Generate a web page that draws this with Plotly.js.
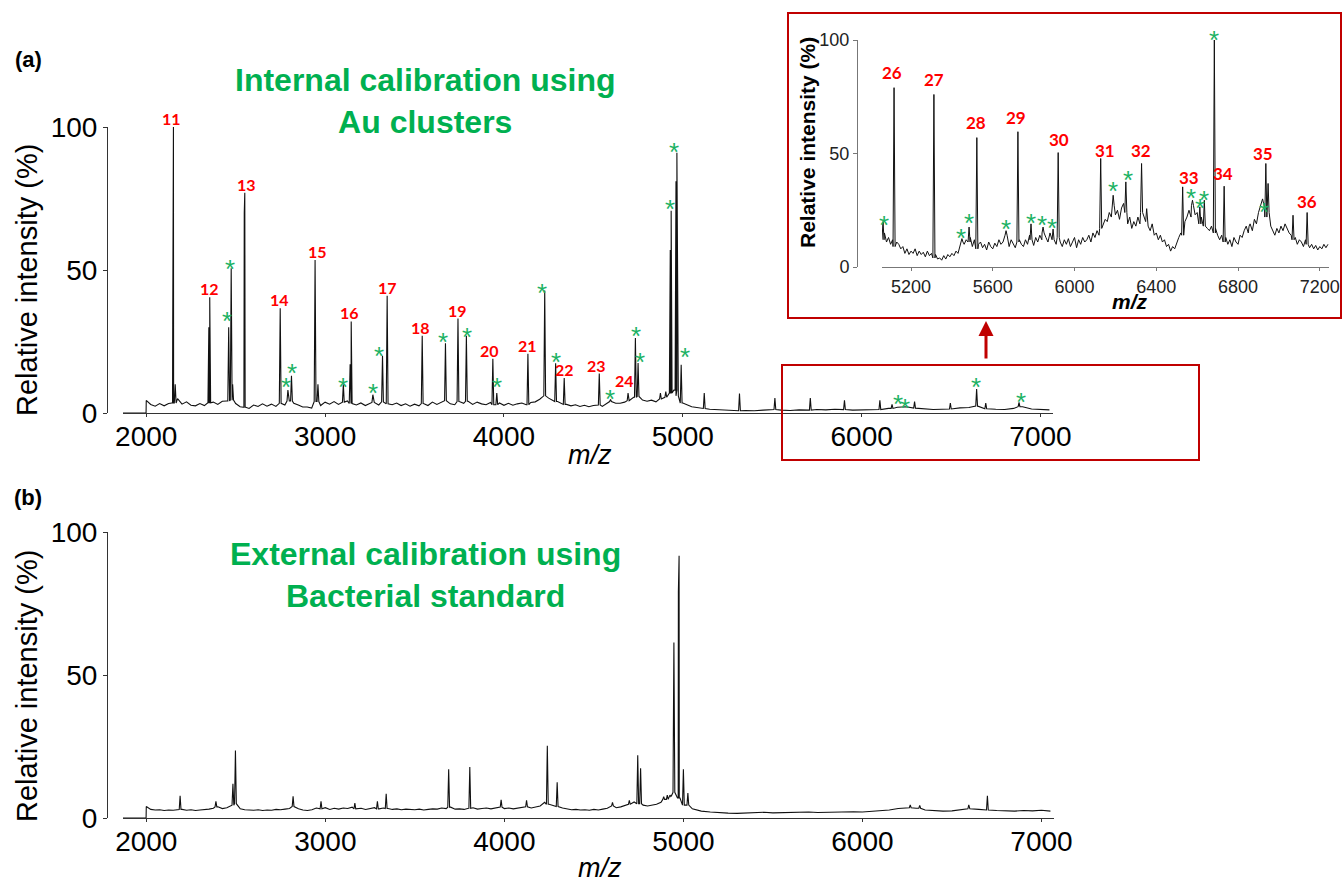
<!DOCTYPE html>
<html><head><meta charset="utf-8">
<script src="https://cdn.plot.ly/plotly-3.0.1.min.js"></script>
<style>html,body{margin:0;padding:0;background:#fff}#chart{width:1344px;height:884px}</style>
</head><body><div id="chart"></div>
<script>
// ---------------- DATA ----------------
// x-axis ticks
const mainTicks = [2000, 3000, 4000, 5000, 6000, 7000];
const insetTicks = [5200, 5600, 6000, 6400, 6800, 7200];
const yTicks = [0, 50, 100];

// flat zero segment before acquisition start (both spectra)
const leadMz = [1870, 1999];
const leadVal = [0, 0];

// (a) baseline, m/z 2000-5000 every 25
const aBase1 = [
  4.4,3.0,2.4,3.3, 2.5,3.3,3.5,5.0, 3.1,3.9,2.7,2.5, 3.3,2.6,3.6,3.8,
  3.0,4.1,4.2,4.5, 3.3,2.2,2.0,1.6, 2.8,2.3,3.2,2.4, 3.1,2.3,3.4,2.8,
  4.2,3.4,2.8,2.1, 2.1,1.7,4.0,2.6, 3.8,3.1,4.0,3.0, 3.8,4.2,3.3,2.8,
  3.5,2.6,3.4,3.7, 2.8,3.9,3.2,2.9, 3.5,2.6,3.2,2.4, 3.1,2.5,3.3,2.6,
  3.8,3.0,3.9,4.3, 3.2,2.9,4.0,3.4, 4.1,3.0,3.8,3.2, 2.9,3.7,2.9,3.5,
  2.7,3.4,2.7,3.2, 3.5,2.9,3.7,3.9, 4.8,6.0,5.2,4.5, 4.0,3.0,3.0,2.5,
  2.9,2.3,2.7,2.2, 2.6,2.8,2.3,3.3, 4.0,3.4,3.4,3.8, 4.3,5.5,5.8,4.5,
  4.1,4.5,3.9,4.9, 5.5,7.0,8.0,6.0, 3.5
];
// (a) baseline, m/z 5050-7050 every 50
const aBase2 = [
  2.2,1.6,1.3,1.1, 0.9,0.8,0.9,0.8, 1.0,1.2,1.0,0.9, 1.1,1.0,1.2,1.1,
  1.3,1.2,1.0,1.1, 1.3,1.2,1.6,2.0, 2.2,1.7,1.4,1.2, 1.3,1.4,1.8,1.9,
  2.4,1.5,1.3,1.2, 1.6,2.2,1.4,1.2, 1.1
];
// (a) peaks
const aPeakMz  = [2148,2152,2162,2350,2355,2461,2475,2483,2548,2551,2749,2792,2812,2944,2960,3102,3140,3146,3267,3321,3347,3543,3673,3743,3790,3938,3960,4134,4228,4289,4337,4533,4596,4694,4735,4750,4875,4905,4930,4935,4962,4967,4991,5120,5317,5515,5713,5904,6102,6170,6237,6296,6496,6643,6694,6880];
const aPeakVal = [31,100,10,30,40.5,30,50.6,10,70,77,36.6,8,13,53.5,10,10,17,32,6.4,20,41,27,24.4,33,27,19,7,20.7,42.8,17.4,12.2,13.8,4.7,7,26.2,17.5,7,7.5,57,70.7,81,91,16.9,7,6.8,5.2,5.2,4.4,4.4,3,2.3,4,3.5,8.4,3.5,3.7];
// (a) numbered peak labels (label centre m/z, intensity of peak top)
const aLabelText = ['11','12','13','14','15','16','17','18','19','20','21','22','23','24'];
const aLabelMz   = [2140,2351,2561,2745,2956,3136,3347,3531,3741,3918,4130,4339,4520,4674];
const aLabelVal  = [100,40.5,77,36.6,53.5,32,41,27,33,19,20.7,12.2,13.8,8.4];
// (a) asterisk marks
const aStarMz  = [2449,2469,2782,2816,3100,3267,3301,3661,3794,3960,4214,4289,4594,4739,4758,4926,4950,5013,6201,6244,6639,6890];
const aStarVal = [32,50.5,9,14,9,7,20,25,26.7,9,42,18,5,26.8,17.7,71.3,91.4,19.5,3.1,1.6,9,3.7];

// inset baseline, m/z 5060-7240 every 10
const iBase = [
  12,15,11,13,10,12,9,11,10,8,
  9,6,8,5.5,7,6,8,5,7,5.5,
  6.5,4.5,7,5,6,4,5.5,3.5,4,3,
  5,3.5,5.5,4.5,6,5,7,6,9,11,
  10,12,11,13,9,12,8,10,11,8.5,
  10,7.5,11,9,8,10.5,9,12,10,11,
  14,11,9,12,10,8.5,11,12,10,9,
  12,10,14,12,9.5,13,11,14,12,15,
  13,11,15,12,14,10,13,11,9,12,
  10,12.5,9,11,13,8.5,12,10,13,11,
  12,14,11,15,13,16,14,17,19,21,
  20,24,22,27,23,25,21,26,28,24,
  19,22,17,20,18,22,19,24,22,20,
  18,16,19,14,15,12,14,11,12,9,
  10,7,9,8,11,13,15,14,20,22,
  25,22,27,23,24,19,22,18,21,17,
  16,18,15,17,14,12,14,11,13,10,
  12,9,13,11,10,14,13,16,18,15,
  18,16,21,19,24,27,30,26,22,24,
  18,16,14,17,15,18,16,19,17,15,
  14,12,13,10,12,11,9,12,10,8.5,
  10,8,9.5,7.5,9,8,10,8.5,10
];
const iPeakMz  = [5063,5117,5312,5449,5484,5522,5665,5723,5787,5846,5895,5920,6128,6189,6251,6328,6353,6529,6577,6613,6635,6684,6732,6859,6936,6947,7069,7138];
const iPeakVal = [20,79,76,12.5,17.6,57,16,59.6,19,17.6,16.7,50.4,47.8,31.6,37.5,45.6,25.7,35.3,29.4,26.5,29.4,100,35.6,19,45.6,36.8,22.8,24];
const iLabelText = ['26','27','28','29','30','31','32','33','34','35','36'];
const iLabelMz   = [5109,5312,5518,5716,5926,6150,6326,6562,6726,6923,7138];
const iLabelVal  = [81.6,78.2,59.6,61.5,52.2,47,47,35.3,36.8,45.6,24.7];
const iStarMz  = [5068,5445,5484,5665,5787,5841,5890,6189,6260,6568,6613,6635,6684,6927];
const iStarVal = [18.5,12.8,19.2,16.8,19.2,18.7,17.3,33.4,38.3,30.4,26.1,29.4,100,24.2];

// (b) baseline, m/z 2000-5000 every 25
const bBase1 = [
  4.0,3.0,2.8,2.9, 2.6,2.8,2.7,2.9, 3.0,2.7,2.9,2.6, 2.8,2.9,3.1,3.4,
  3.9,3.3,3.6,4.5, 5.0,3.2,2.9,2.8, 2.7,2.9,2.6,2.8, 2.7,3.0,2.9,3.1,
  3.3,4.0,3.2,2.8, 2.6,2.9,3.5,3.2, 3.6,3.0,3.4,3.1, 3.5,3.3,3.8,3.2,
  3.4,3.0,3.3,3.6, 3.2,3.5,3.3,3.0, 3.2,2.9,3.1,3.0, 2.9,3.1,2.8,3.0,
  3.2,3.1,3.5,3.3, 3.8,3.1,3.2,3.0, 3.4,3.6,3.1,3.3, 3.5,3.2,3.6,3.8,
  3.3,3.5,3.2,3.4, 3.6,3.9,3.5,3.8, 4.2,5.5,4.8,4.4, 4.0,3.5,3.2,2.9,
  3.0,2.8,2.9,2.7, 3.0,2.8,3.1,3.4, 4.2,3.6,3.9,4.4, 4.8,5.6,5.0,4.5,
  4.2,4.6,4.8,5.5, 6.5,8.0,9.0,7.0, 4.5
];
// (b) baseline, m/z 5050-7050 every 50
const bBase2 = [
  3.2,2.4,2.1,1.8, 1.7,1.6,1.7,1.8, 2.0,1.8,1.9,2.0, 1.9,2.1,1.9,2.0,
  2.1,2.0,2.2,2.1, 2.3,2.4,2.8,3.3, 3.6,3.4,2.8,2.6, 2.4,2.5,2.9,3.2,
  3.0,2.8,2.6,2.5, 2.4,2.6,2.5,2.7, 2.4
];
const bPeakMz  = [2189,2389,2484,2498,2820,2976,3165,3291,3340,3689,3807,3982,4124,4240,4295,4604,4698,4745,4761,4890,4910,4930,4947,4972,4976,5000,5025,6267,6320,6594,6698];
const bPeakVal = [7.8,5.8,12,23.6,7.6,5.8,5.2,5.8,8.5,17,17.8,6.4,6.2,25.3,12.5,5.5,6.2,21.9,17.4,7.5,8,7.5,61.4,79,91.7,17,8.7,4.6,4.4,4.6,7.8];

// ---------------- BUILD ----------------
function grid(start, step, n) { return Array.from({length: n}, (_, i) => start + i * step); }
function spectrum(baseMz, baseVal, peakMz, peakVal, w) {
  const pts = [];
  baseMz.forEach((m, i) => {
    if (!peakMz.some(p => Math.abs(p - m) <= w)) pts.push([m, baseVal[i]]);
  });
  peakMz.forEach((p, i) => {
    let k = 0, best = Infinity;
    baseMz.forEach((m, j) => { const d = Math.abs(m - p); if (d < best) { best = d; k = j; } });
    const b = baseVal[k];
    pts.push([p - w, b], [p, peakVal[i]], [p + w, b]);
  });
  pts.sort((a, b) => a[0] - b[0]);
  return {x: pts.map(p => p[0]), y: pts.map(p => p[1])};
}

const aMz = leadMz.concat(grid(2000, 25, aBase1.length), grid(5050, 50, aBase2.length));
const aVal = leadVal.concat(aBase1, aBase2);
const bMz = leadMz.concat(grid(2000, 25, bBase1.length), grid(5050, 50, bBase2.length));
const bVal = leadVal.concat(bBase1, bBase2);
const iMz = grid(5060, 10, iBase.length);

const specA = spectrum(aMz, aVal, aPeakMz, aPeakVal, 5);
const specI = spectrum(iMz, iBase, iPeakMz, iPeakVal, 5);
const specB = spectrum(bMz, bVal, bPeakMz, bPeakVal, 5);

const lineStyle = {color: '#111', width: 1.1};
const traces = [
  {x: specA.x, y: specA.y, type: 'scatter', mode: 'lines', line: lineStyle, xaxis: 'x', yaxis: 'y', hoverinfo: 'skip'},
  {x: specI.x, y: specI.y, type: 'scatter', mode: 'lines', line: {color: '#111', width: 1}, xaxis: 'x2', yaxis: 'y2', hoverinfo: 'skip'},
  {x: specB.x, y: specB.y, type: 'scatter', mode: 'lines', line: lineStyle, xaxis: 'x3', yaxis: 'y3', hoverinfo: 'skip'}
];

const FONT = 'Liberation Sans, Arial, sans-serif';
const LBLFONT = 'Lato, Open Sans, sans-serif';
const RED = '#FF0000', GREEN = '#00B050', STAR = '#1DB264', BOX = '#C00000';

const ann = [];
function addLabels(texts, mzs, vals, xr, yr, size) {
  texts.forEach((t, i) => ann.push({xref: xr, yref: yr, x: mzs[i], y: vals[i], text: '<b>' + t + '</b>',
    showarrow: false, yanchor: 'bottom', yshift: -3, font: {family: LBLFONT, size: size, color: RED}}));
}
function addStars(mzs, vals, xr, yr, size) {
  mzs.forEach((m, i) => ann.push({xref: xr, yref: yr, x: m, y: vals[i], text: '*',
    showarrow: false, yanchor: 'middle', yshift: 0, font: {family: FONT, size: size, color: STAR}}));
}
addLabels(aLabelText, aLabelMz, aLabelVal, 'x', 'y', 16);
addStars(aStarMz, aStarVal, 'x', 'y', 26);
addLabels(iLabelText, iLabelMz, iLabelVal, 'x2', 'y2', 17);
addStars(iStarMz, iStarVal, 'x2', 'y2', 26);

function P(px, py) { return {x: px / 1344, y: 1 - py / 884}; }
function textAnn(px, py, text, font, extra) {
  const p = P(px, py);
  return Object.assign({xref: 'paper', yref: 'paper', x: p.x, y: p.y, text: text, showarrow: false,
    xanchor: 'center', yanchor: 'middle', font: font}, extra || {});
}
// panel tags, titles, axis titles
ann.push(textAnn(28, 60, '<b>(a)</b>', {family: FONT, size: 22, color: '#000'}));
ann.push(textAnn(28, 497, '<b>(b)</b>', {family: FONT, size: 22, color: '#000'}));
ann.push(textAnn(425, 101, '<b>Internal calibration using<br>Au clusters</b>', {family: FONT, size: 32, color: GREEN}));
ann.push(textAnn(425, 575, '<b>External calibration using<br>Bacterial standard</b>', {family: FONT, size: 32, color: GREEN}));
ann.push(textAnn(27, 280, 'Relative intensity (%)', {family: FONT, size: 29, color: '#000'}, {textangle: -90}));
ann.push(textAnn(27, 686, 'Relative intensity (%)', {family: FONT, size: 29, color: '#000'}, {textangle: -90}));
ann.push(textAnn(590, 455, '<i>m/z</i>', {family: FONT, size: 27, color: '#000'}));
ann.push(textAnn(600, 868, '<i>m/z</i>', {family: FONT, size: 27, color: '#000'}));
ann.push(textAnn(808, 143, '<b>Relative intensity (%)</b>', {family: FONT, size: 21, color: '#000'}, {textangle: -90}));
ann.push(textAnn(1130, 301, '<b><i>m/z</i></b>', {family: FONT, size: 21, color: '#000'}));
// red arrow from zoom box to inset
const arrowTip = P(986, 321);
ann.push({xref: 'paper', yref: 'paper', x: arrowTip.x, y: arrowTip.y, ax: 0, ay: 39, text: '',
  showarrow: true, arrowhead: 2, arrowsize: 1, arrowwidth: 3, arrowcolor: BOX, standoff: 0});

function boxShape(x0, y0, x1, y1) {
  const a = P(x0, y0), b = P(x1, y1);
  return {type: 'rect', xref: 'paper', yref: 'paper', x0: a.x, y0: b.y, x1: b.x, y1: a.y,
    line: {color: BOX, width: 2}, fillcolor: 'rgba(0,0,0,0)', layer: 'above'};
}
const shapes = [boxShape(788, 13, 1341, 318), boxShape(782, 365, 1199, 460)];

function xAxis(domain, range, anchor, ticks, fsize, color, lcolor, standoff) {
  return {domain: domain, range: range, anchor: anchor, showline: true, linecolor: lcolor, linewidth: 1,
    ticks: 'outside', ticklen: 3, tickcolor: lcolor, tickwidth: 1, tickvals: ticks, ticklabelstandoff: standoff,
    tickfont: {family: FONT, size: fsize, color: color}, showgrid: false, zeroline: false, fixedrange: true};
}
function yAxis(domain, position, fsize, color, lcolor) {
  return {domain: domain, range: [0, 100], anchor: 'free', position: position, showline: true, linecolor: lcolor,
    linewidth: 1, ticks: 'outside', ticklen: 4, tickcolor: lcolor, tickwidth: 1, tickvals: yTicks,
    tickfont: {family: FONT, size: fsize, color: color}, showgrid: false, zeroline: false, fixedrange: true};
}

const layout = {
  width: 1344, height: 884, margin: {l: 0, r: 0, t: 0, b: 0},
  paper_bgcolor: '#fff', plot_bgcolor: 'rgba(0,0,0,0)', showlegend: false,
  xaxis: xAxis([123 / 1344, 1053 / 1344], [1870, 7070], 'y', mainTicks, 28, '#000', '#333', -5),
  yaxis: yAxis([471 / 884, 757 / 884], 107 / 1344, 28, '#000', '#333'),
  xaxis2: xAxis([882 / 1344, 1329 / 1344], [5058, 7245], 'y2', insetTicks, 18, '#222', '#777', 0),
  yaxis2: yAxis([617 / 884, 844 / 884], 857 / 1344, 18, '#222', '#777'),
  xaxis3: xAxis([123 / 1344, 1054 / 1344], [1870, 7070], 'y3', mainTicks, 28, '#000', '#333', -5),
  yaxis3: yAxis([66 / 884, 352 / 884], 107 / 1344, 28, '#000', '#333'),
  annotations: ann, shapes: shapes
};

Plotly.newPlot('chart', traces, layout, {displayModeBar: false, staticPlot: true});
</script></body></html>
